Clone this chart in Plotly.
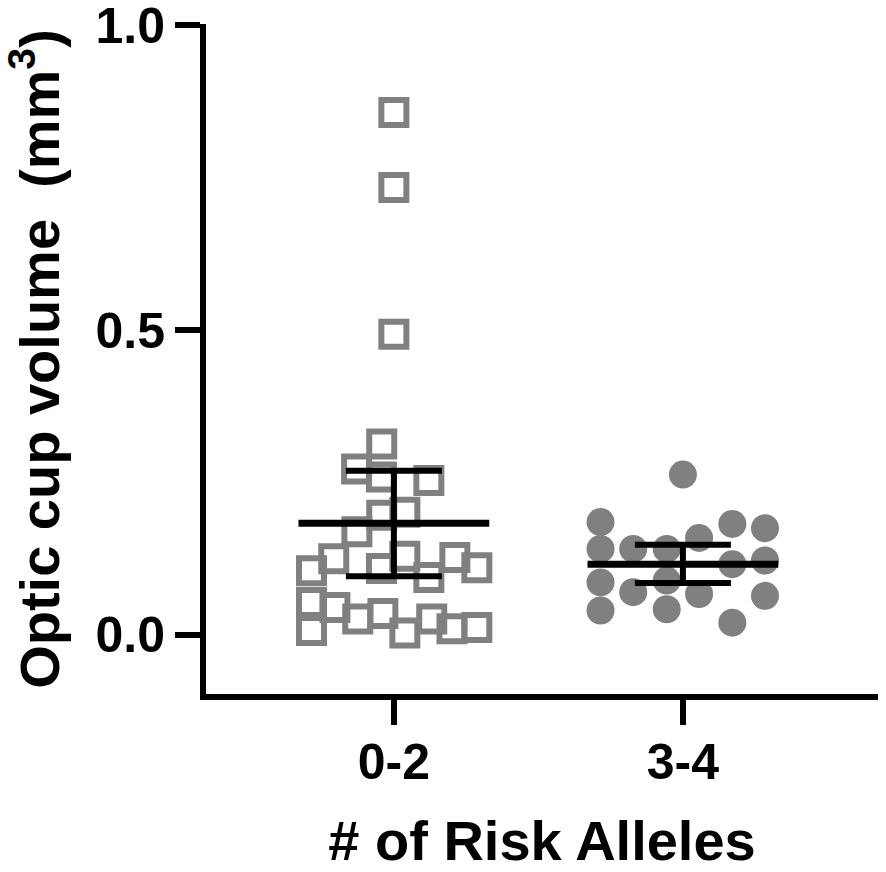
import plotly.graph_objects as go

categories = ["0-2", "3-4"]
group_pos = [0, 1]

# Group "0-2": values (mm^3) and horizontal scatter offsets
g1_values = [0.857, 0.734, 0.493, 0.313, 0.272, 0.259, 0.253, 0.196, 0.201, 0.169,
             0.125, 0.109, 0.129, 0.094, 0.127, 0.110, 0.105, 0.053, 0.007, 0.045,
             0.026, 0.035, 0.003, 0.026, 0.010, 0.012]
g1_offsets = [0.0, 0.0, 0.0, -0.042, -0.129, -0.043, 0.121, -0.042, 0.038, -0.128,
              -0.208, -0.043, 0.038, 0.121, 0.211, 0.287, -0.285, -0.285, -0.285, -0.204,
              -0.125, -0.038, 0.038, 0.131, 0.201, 0.287]

# Group "3-4"
g2_values = [0.263, 0.185, 0.141, 0.086, 0.040, 0.141, 0.070, 0.141, 0.089, 0.042,
             0.159, 0.067, 0.182, 0.116, 0.020, 0.175, 0.122, 0.064]
g2_offsets = [0.0, -0.285, -0.285, -0.285, -0.285, -0.172, -0.172, -0.056, -0.056, -0.056,
              0.056, 0.056, 0.171, 0.171, 0.171, 0.284, 0.284, 0.284]

# Summary statistics (mean and error bar limits)
means = [0.183, 0.116]
upper = [0.269, 0.148]
lower = [0.096, 0.085]

y_tickvals = [0.0, 0.5, 1.0]
y_ticktext = ["0.0", "0.5", "1.0"]

mean_half_width = 0.33
grey = "#808080"
font_family = "Liberation Sans, Arial, sans-serif"

fig = go.Figure()

fig.add_trace(go.Scatter(
    x=[group_pos[0] + o for o in g1_offsets], y=g1_values, mode="markers",
    marker=dict(symbol="square-open", size=25, color=grey, line=dict(width=6, color=grey)),
    showlegend=False, hoverinfo="y"))

fig.add_trace(go.Scatter(
    x=[group_pos[1] + o for o in g2_offsets], y=g2_values, mode="markers",
    marker=dict(symbol="circle", size=28, color=grey, line=dict(width=0)),
    showlegend=False, hoverinfo="y"))

for gp, m, up, lo in zip(group_pos, means, upper, lower):
    fig.add_trace(go.Scatter(
        x=[gp - mean_half_width, gp + mean_half_width], y=[m, m], mode="lines",
        line=dict(color="black", width=7), showlegend=False, hoverinfo="skip"))
    fig.add_trace(go.Scatter(
        x=[gp], y=[m], mode="markers", marker=dict(size=1, color="rgba(0,0,0,0)"),
        error_y=dict(type="data", symmetric=False, array=[up - m], arrayminus=[m - lo],
                     color="black", thickness=6, width=48),
        showlegend=False, hoverinfo="skip"))

fig.update_layout(
    width=886, height=872,
    margin=dict(l=206, r=8, t=24, b=178, autoexpand=False),
    paper_bgcolor="white", plot_bgcolor="white",
    font=dict(family=font_family, color="black"),
)

fig.update_xaxes(
    range=[-0.65, 1.675], automargin=False,
    tickmode="array", tickvals=group_pos, ticktext=categories,
    showline=True, linecolor="black", linewidth=6,
    ticks="outside", ticklen=25, tickwidth=6, tickcolor="black",
    showgrid=False, zeroline=False, ticklabeloverflow="allow",
    ticklabelstandoff=-6,
    tickfont=dict(size=50, family=font_family, weight="bold"),
    title=dict(text="# of Risk Alleles", font=dict(size=56, family=font_family, weight="bold"),
               standoff=38),
)

fig.update_yaxes(
    range=[-0.097, 1.002], automargin=False,
    tickmode="array", tickvals=y_tickvals, ticktext=y_ticktext,
    showline=True, linecolor="black", linewidth=6,
    ticks="outside", ticklen=25, tickwidth=6, tickcolor="black",
    showgrid=False, zeroline=False, ticklabeloverflow="allow",
    tickfont=dict(size=50, family=font_family, weight="bold"),
    title=dict(text="Optic cup volume\u00a0\u00a0(mm<sup>3</sup>)",
               font=dict(size=56, family=font_family, weight="bold"), standoff=25),
)

fig.write_html("out.html", config={"displayModeBar": False},
               post_script="document.body.style.margin='0px';")
